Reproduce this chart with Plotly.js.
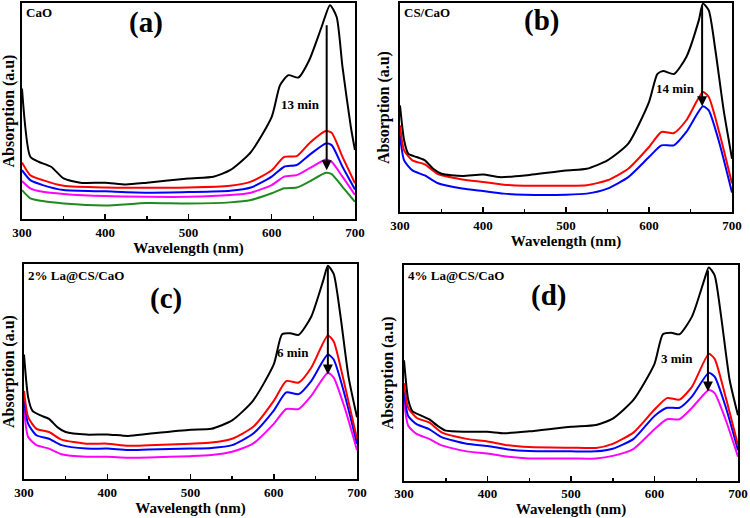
<!DOCTYPE html>
<html>
<head>
<meta charset="utf-8">
<script src="https://cdn.plot.ly/plotly-3.0.1.min.js"></script>
<style>
  html, body { margin: 0; padding: 0; background: #fff; }
  #myDiv { width: 750px; height: 518px; }
</style>
</head>
<body>
<div id="myDiv"></div>
<script>
// wavelength grids (nm) and absorption (a.u., 0-100 of plot height)
const aWlBlack = [300, 310, 320, 335, 350, 370, 400, 425, 450, 500, 530, 550, 575, 600, 610, 620, 632, 645, 660, 670, 678, 685, 695, 700];
const aBlack = [60.4, 28.8, 26.5, 24.2, 18.8, 16.8, 16.8, 16, 16.8, 18.8, 19.6, 22.6, 31, 47.3, 62, 66.6, 65.5, 73.5, 89, 99, 93.5, 70.4, 42.7, 31.9];
const aWl = [300, 310, 325, 350, 400, 450, 500, 550, 575, 600, 615, 630, 645, 665, 672, 685, 700];
const aRed = [26.2, 20.3, 18, 15.4, 14.6, 14.5, 14.6, 15.4, 17.3, 22.6, 28.8, 29.1, 35, 40.7, 39.9, 28.8, 16.5];
const aBlue = [22.6, 18, 15.7, 13.4, 12.8, 12.2, 12.5, 13.1, 14.6, 19.6, 24.2, 25, 29.6, 35, 34.2, 24.2, 13.7];
const aMagenta = [17.6, 14.2, 12.6, 11.6, 10.6, 10.3, 10.3, 11.1, 12.2, 15.7, 19.6, 20.3, 23.4, 27.6, 26.5, 19.6, 11.1];
const aGreen = [13.4, 9.6, 8.3, 7.2, 6.3, 7.4, 7.2, 7.7, 8.8, 11.9, 14.2, 14.6, 17.3, 21.4, 20.8, 14.9, 8];

const bWlBlack = [300, 305, 310, 320, 330, 340, 350, 375, 400, 420, 450, 500, 525, 550, 575, 600, 610, 617, 630, 645, 660, 665, 672, 680, 690, 700];
const bBlack = [51, 34.3, 27.9, 26.3, 24.7, 20.7, 18.3, 17.2, 17.9, 16.7, 17.5, 19.9, 20.7, 24.7, 32.7, 52.6, 66, 67.5, 66, 74.2, 91.7, 99.7, 96.5, 77.4, 48.6, 25.5];
const bWl = [300, 305, 315, 330, 345, 375, 400, 425, 450, 500, 525, 550, 575, 600, 615, 630, 645, 665, 672, 685, 700];
const bRed = [41.5, 29.5, 24.7, 22.8, 18.3, 15.6, 14.4, 13.1, 12.6, 12.6, 12.8, 15.2, 20.7, 31.1, 38.3, 37.8, 43.9, 57.4, 55, 37.5, 13.6];
const bBlue = [36.7, 24.7, 19.9, 17.5, 13.9, 11.2, 10, 8.8, 8.3, 8.3, 8.8, 11.2, 16.7, 26.3, 31.9, 31.9, 38.3, 50.6, 48.6, 32.7, 9.3];

const cWlBlack = [300, 305, 310, 320, 330, 340, 350, 375, 400, 425, 450, 500, 525, 550, 575, 600, 610, 620, 630, 645, 660, 665, 672, 680, 690, 700];
const cBlack = [57.9, 38, 31.9, 29.6, 28, 24.2, 21.9, 20.7, 20.8, 20.1, 21.1, 23, 23.4, 27.3, 36.4, 53.3, 67.4, 67.8, 67.1, 75.5, 93.1, 99.2, 95.4, 76.3, 47.2, 28.8];
const cWl = [300, 305, 315, 330, 345, 375, 400, 425, 450, 500, 525, 550, 575, 600, 615, 630, 645, 665, 672, 685, 700];
const cRed = [41, 28.8, 23.4, 21.9, 18.4, 16.5, 16.5, 15.5, 15.8, 16.5, 17, 18.8, 24.2, 36.4, 45.6, 44.9, 51.8, 66.8, 64, 44.1, 18.8];
const cBlue = [36.4, 25.7, 20.4, 18.8, 15.8, 14.2, 14.2, 13.5, 13.8, 14.2, 14.5, 15.8, 21.1, 31.9, 40.3, 39.5, 45.6, 57.9, 55.6, 39.5, 16.5];
const cMagenta = [32.6, 19.6, 15.8, 14.2, 11.6, 10.4, 10.4, 10, 10.1, 10.7, 11.2, 12.7, 16.5, 25.7, 32.6, 32.6, 38.7, 49.5, 47.2, 33.4, 13.5];

const dWlBlack = [300, 305, 310, 320, 330, 340, 350, 375, 400, 420, 450, 500, 530, 550, 575, 600, 610, 620, 630, 645, 660, 665, 672, 680, 690, 700];
const dBlack = [55.8, 37.6, 32.3, 30.3, 28.5, 25.5, 23.2, 22.7, 22.7, 22, 22.9, 25, 25.8, 28.8, 37.6, 54.2, 67.9, 68.6, 67.9, 76.2, 93.6, 98.9, 95.2, 75.5, 46.7, 30.3];
const dWl = [300, 305, 315, 330, 345, 375, 400, 425, 450, 500, 530, 550, 575, 600, 615, 630, 645, 665, 672, 685, 700];
const dRed = [45.2, 33.8, 29.2, 27, 22.4, 19.4, 18.2, 16.4, 15.6, 15.3, 15.2, 17.1, 22.4, 33, 38.3, 37.6, 43.6, 58.8, 56.5, 39.1, 16.4];
const dBlue = [41.4, 30, 26.2, 23.9, 20.2, 17.1, 16.1, 14.5, 13.8, 13.6, 13.6, 14.8, 19.4, 30, 33.8, 33.8, 39.1, 50, 48.2, 34.5, 14.1];
const dMagenta = [37.6, 25.5, 21.7, 19.4, 16.4, 13.6, 12.6, 11.1, 10.3, 10.3, 10.3, 11.5, 14.8, 23.9, 28.5, 28.5, 33.8, 42.1, 40.6, 28.5, 11.1];

const panelLetters = ['(a)', '(b)', '(c)', '(d)'];
const sampleNames = ['CaO', 'CS/CaO', '2% La@CS/CaO', '4% La@CS/CaO'];
const timeLabels = ['13 min', '14 min', '6 min', '3 min'];

const serif = 'Liberation Serif, Times New Roman, serif';

function line(x, y, color, ax) {
  return {
    x: x, y: y, type: 'scatter', mode: 'lines',
    line: {color: color, width: 2, shape: 'spline', smoothing: 0.6},
    xaxis: 'x' + ax, yaxis: 'y' + ax, hoverinfo: 'skip'
  };
}

var data = [
  line(aWl, aGreen, '#1f8a1f', ''),
  line(aWl, aMagenta, '#ff00ff', ''),
  line(aWl, aBlue, '#0000ff', ''),
  line(aWl, aRed, '#ff0000', ''),
  line(aWlBlack, aBlack, '#000000', ''),
  line(bWl, bBlue, '#0000ff', '2'),
  line(bWl, bRed, '#ff0000', '2'),
  line(bWlBlack, bBlack, '#000000', '2'),
  line(cWl, cMagenta, '#ff00ff', '3'),
  line(cWl, cBlue, '#0000ff', '3'),
  line(cWl, cRed, '#ff0000', '3'),
  line(cWlBlack, cBlack, '#000000', '3'),
  line(dWl, dMagenta, '#ff00ff', '4'),
  line(dWl, dBlue, '#0000ff', '4'),
  line(dWl, dRed, '#ff0000', '4'),
  line(dWlBlack, dBlack, '#000000', '4')
];

function xAxis(domain, anchor) {
  return {
    domain: domain, anchor: anchor, range: [300, 700],
    tickvals: [300, 400, 500, 600, 700],
    ticks: 'inside', ticklen: 5, tickwidth: 1.5, tickcolor: '#000',
    minor: {tickvals: [350, 450, 550, 650], ticks: 'inside', ticklen: 3, tickcolor: '#000'},
    showline: true, mirror: true, linewidth: 2, linecolor: '#000',
    showgrid: false, zeroline: false, automargin: false,
    tickfont: {family: serif, size: 13, color: '#000', weight: 'bold'},
    title: {text: 'Wavelength (nm)', standoff: 1,
            font: {family: serif, size: 15, color: '#000', weight: 'bold'}}
  };
}

function yAxis(domain, anchor) {
  return {
    domain: domain, anchor: anchor, range: [0, 100],
    showticklabels: false, ticks: '',
    showline: true, mirror: true, linewidth: 2, linecolor: '#000',
    showgrid: false, zeroline: false, automargin: false,
    title: {text: 'Absorption (a.u)', standoff: 4,
            font: {family: serif, size: 16, color: '#000', weight: 'bold'}}
  };
}

// arrow and label positions per panel (data units)
const arrowX = [666, 664, 665, 664];
const arrowTop = [90.4, 99.7, 99.2, 98.2];
const arrowBottom = [22.6, 50.6, 48.7, 41.4];
const timeX = [634, 632, 623, 627];
const timeY = [53.2, 59, 58.7, 56.5];
const letterX = [449, 471, 471, 473];
const letterY = [91, 91.5, 84, 86];
const nameY = [95.5, 95.5, 94.6, 95];

var annotations = [];
['', '2', '3', '4'].forEach(function (s, i) {
  annotations.push({
    xref: 'x' + s, yref: 'y' + s, x: arrowX[i], y: arrowBottom[i],
    ax: arrowX[i], ay: arrowTop[i], axref: 'x' + s, ayref: 'y' + s,
    showarrow: true, arrowhead: 2, arrowsize: 1, arrowwidth: 2, arrowcolor: '#000', text: ''
  });
  annotations.push({
    xref: 'x' + s, yref: 'y' + s, x: timeX[i], y: timeY[i], showarrow: false,
    text: timeLabels[i], font: {family: serif, size: 13, color: '#000', weight: 'bold'}
  });
  annotations.push({
    xref: 'x' + s, yref: 'y' + s, x: letterX[i], y: letterY[i], showarrow: false,
    text: panelLetters[i], font: {family: serif, size: 29, color: '#000', weight: 'bold'}
  });
  annotations.push({
    xref: 'x' + s, yref: 'y' + s, x: 302, y: nameY[i], showarrow: false,
    xanchor: 'left', text: sampleNames[i],
    font: {family: serif, size: 13, color: '#000', weight: 'bold'}
  });
});

var layout = {
  width: 750, height: 518,
  margin: {l: 0, r: 0, t: 0, b: 0},
  paper_bgcolor: '#fff', plot_bgcolor: '#fff',
  showlegend: false,
  xaxis: xAxis([0.0293, 0.4733], 'y'),
  yaxis: yAxis([0.5772, 0.9942], 'x'),
  xaxis2: xAxis([0.5333, 0.976], 'y2'),
  yaxis2: yAxis([0.5907, 0.9942], 'x2'),
  xaxis3: xAxis([0.032, 0.476], 'y3'),
  yaxis3: yAxis([0.075, 0.4903], 'x3'),
  xaxis4: xAxis([0.5387, 0.984], 'y4'),
  yaxis4: yAxis([0.072, 0.4884], 'x4'),
  annotations: annotations
};

Plotly.newPlot('myDiv', data, layout, {staticPlot: true});
</script>
</body>
</html>
